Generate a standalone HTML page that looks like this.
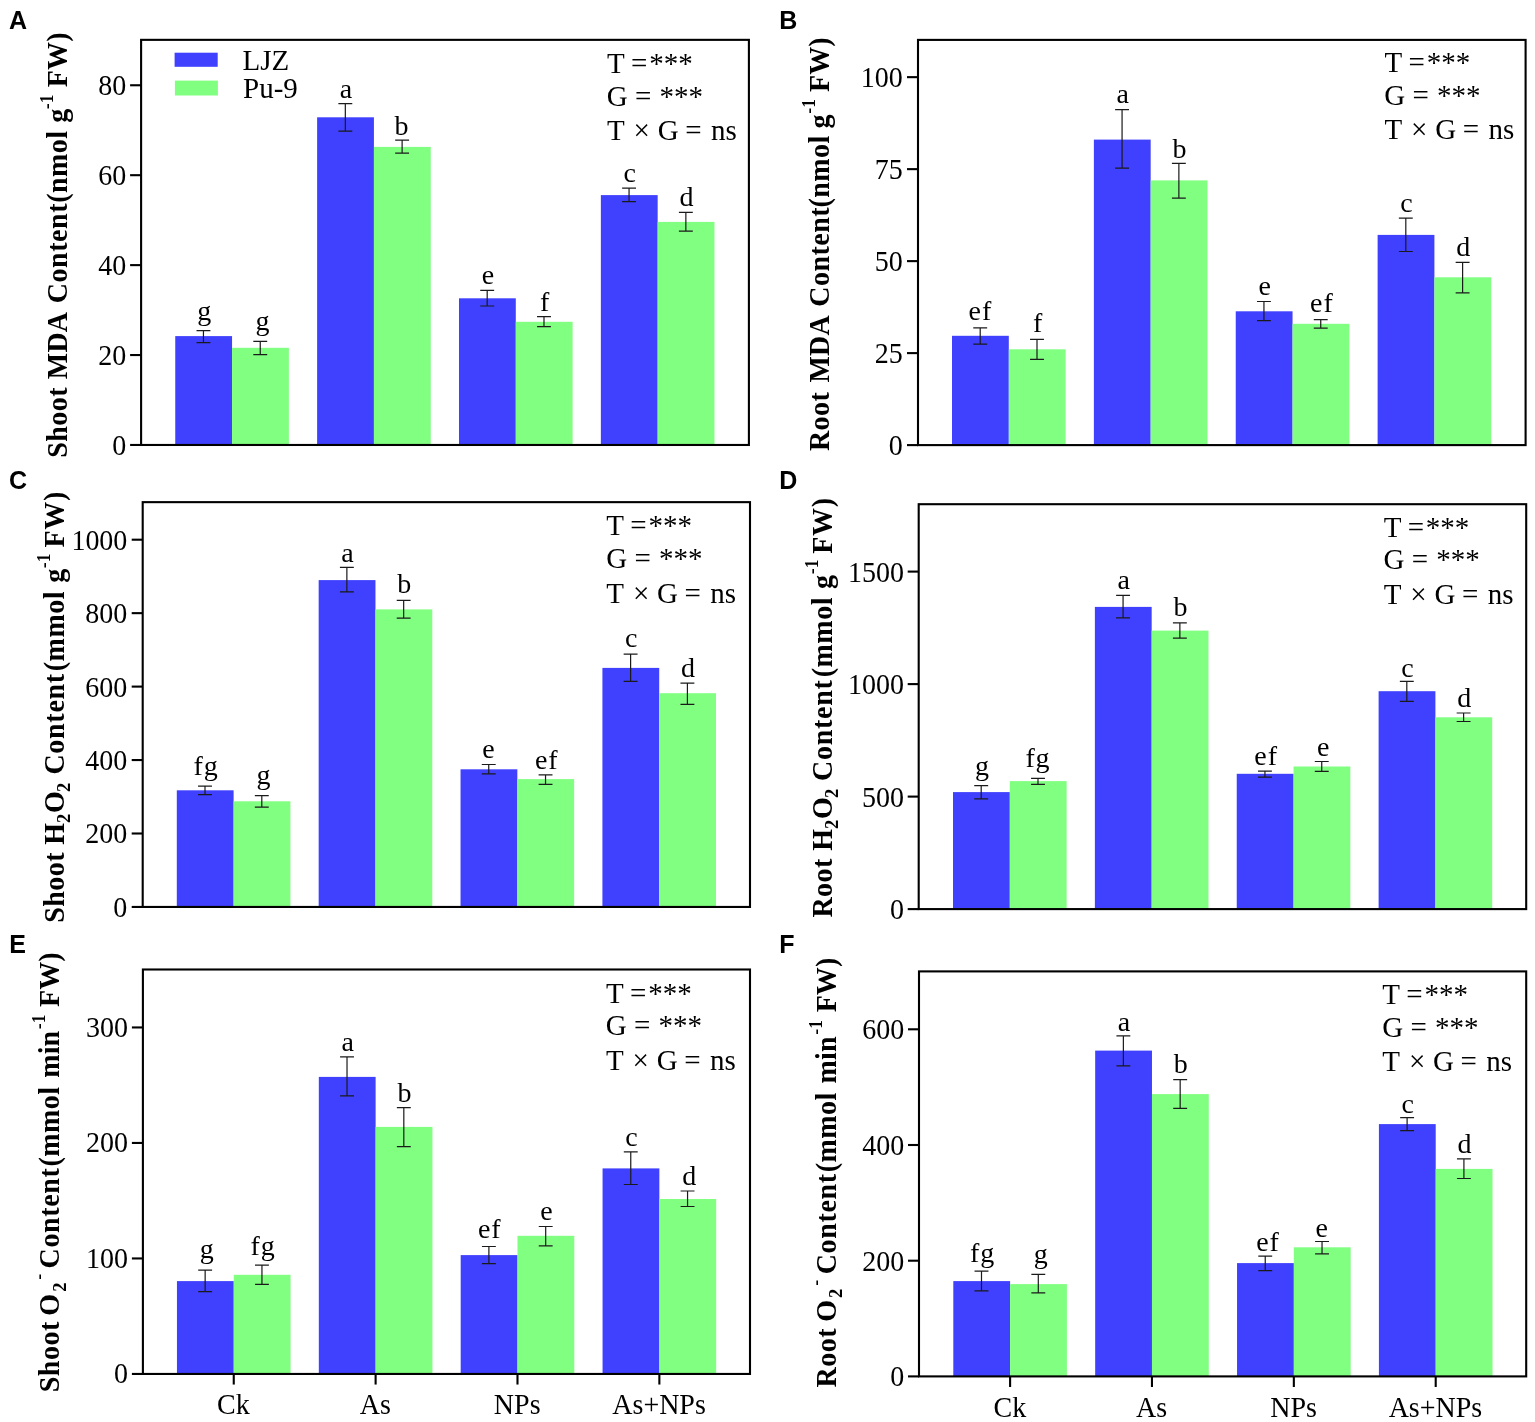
<!DOCTYPE html>
<html lang="en"><head><meta charset="utf-8"><title>Figure</title>
<style>
html,body{margin:0;padding:0;background:#fff;}
body{width:1535px;height:1422px;overflow:hidden;}
svg{display:block;}
text{font-family:"Liberation Serif","DejaVu Serif",serif;fill:#000;}
.tk{font-size:28px;text-anchor:end;}
.st{font-size:29px;}
.lt{font-size:28px;text-anchor:middle;}
.xl{font-size:28px;text-anchor:middle;}
.yl{font-size:28px;font-weight:bold;}
.pl{font-family:"Liberation Sans","DejaVu Sans",sans-serif;font-weight:bold;font-size:25px;}
.ax{stroke:#000;stroke-width:2.1;fill:none;}
.eb{stroke:#1a1a1a;stroke-width:1.2;fill:none;}
</style></head><body>
<svg width="1535" height="1422" viewBox="0 0 1535 1422">
<rect x="0" y="0" width="1535" height="1422" fill="#ffffff"/>
<g id="panel-A">
<rect x="175.25" y="336.1" width="56.8" height="108.87" fill="#4040ff"/>
<rect x="232.05" y="347.8" width="56.8" height="97.17" fill="#80ff80"/>
<rect x="317.12" y="117.3" width="56.8" height="327.67" fill="#4040ff"/>
<rect x="373.92" y="146.9" width="56.8" height="298.07" fill="#80ff80"/>
<rect x="458.99" y="298.3" width="56.8" height="146.67" fill="#4040ff"/>
<rect x="515.79" y="321.8" width="56.8" height="123.17" fill="#80ff80"/>
<rect x="600.86" y="195.1" width="56.8" height="249.87" fill="#4040ff"/>
<rect x="657.66" y="221.9" width="56.8" height="223.07" fill="#80ff80"/>
<path class="eb" d="M196.5 330.6H210.4M196.5 342.6H210.4M203.45 330.6V342.6"/>
<path class="eb" d="M253.3 341.3H267.2M253.3 354.6H267.2M260.25 341.3V354.6"/>
<path class="eb" d="M338.37 103.6H352.27M338.37 131.1H352.27M345.32 103.6V131.1"/>
<path class="eb" d="M395.17 140.1H409.07M395.17 153.1H409.07M402.12 140.1V153.1"/>
<path class="eb" d="M480.24 290.3H494.14M480.24 306H494.14M487.19 290.3V306"/>
<path class="eb" d="M537.04 316.6H550.94M537.04 326.6H550.94M543.99 316.6V326.6"/>
<path class="eb" d="M622.11 188.1H636.01M622.11 201.7H636.01M629.06 188.1V201.7"/>
<path class="eb" d="M678.91 212.4H692.81M678.91 231.2H692.81M685.86 212.4V231.2"/>
<text class="lt" transform="translate(204.15 320.25) scale(1 0.95)">g</text>
<text class="lt" transform="translate(262.55 330.45) scale(1 0.95)">g</text>
<text class="lt" transform="translate(346.02 97.8) scale(1 0.95)">a</text>
<text class="lt" transform="translate(401.52 134.6) scale(1 1)">b</text>
<text class="lt" transform="translate(487.89 283.7) scale(1 0.95)">e</text>
<text class="lt" transform="translate(544.69 310.7) scale(1 1)">f</text>
<text class="lt" transform="translate(629.76 182.1) scale(1 0.95)">c</text>
<text class="lt" transform="translate(686.56 206.4) scale(1 1)">d</text>
<rect class="ax" x="141.1" y="39.85" width="607.8" height="405.12"/>
<path class="ax" d="M130.1 444.97H141.1"/>
<text class="tk" transform="translate(126.3 454.87) scale(1 1.04)">0</text>
<path class="ax" d="M130.1 355.04H141.1"/>
<text class="tk" transform="translate(126.3 364.94) scale(1 1.04)">20</text>
<path class="ax" d="M130.1 265.12H141.1"/>
<text class="tk" transform="translate(126.3 275.01) scale(1 1.04)">40</text>
<path class="ax" d="M130.1 175.19H141.1"/>
<text class="tk" transform="translate(126.3 185.09) scale(1 1.04)">60</text>
<path class="ax" d="M130.1 85.26H141.1"/>
<text class="tk" transform="translate(126.3 95.16) scale(1 1.04)">80</text>
<text class="st" y="73.2"><tspan x="606.96">T </tspan><tspan x="631">=</tspan><tspan x="649.15">***</tspan></text>
<text class="st" y="105.5"><tspan x="606.85">G </tspan><tspan x="635.11">= </tspan><tspan x="659.6">***</tspan></text>
<text class="st" y="139.9"><tspan x="606.96">T </tspan><tspan x="633.6">× </tspan><tspan x="657.7">G </tspan><tspan x="685.3">= </tspan><tspan x="711">ns</tspan></text>
<text class="pl" x="9.1" y="29.4">A</text>
<text class="yl" transform="translate(66.9 457.8) rotate(-90) scale(1 1.04)" letter-spacing="0.12"><tspan x="0" y="0" letter-spacing="0.5">Shoot </tspan><tspan x="78.66" y="0">MDA </tspan><tspan x="154.58" y="0" letter-spacing="0.55">Content</tspan><tspan x="255.06" y="0" letter-spacing="0.45">(nmol </tspan><tspan x="335.1" y="0">g</tspan><tspan x="348.67" y="-13.5" font-size="17.5">-1 </tspan><tspan x="370.68" y="0">FW)</tspan></text>
<rect x="174.6" y="52.7" width="43.1" height="14.1" fill="#4040ff"/>
<rect x="174.9" y="80.6" width="43" height="14.9" fill="#80ff80"/>
<text class="st" x="242.6" y="69.6" font-size="28.3">LJZ</text>
<text class="st" x="243" y="98.4" font-size="28.6">Pu-9</text>
</g>
<g id="panel-B">
<rect x="952" y="335.8" width="56.8" height="109.3" fill="#4040ff"/>
<rect x="1008.8" y="349.3" width="56.8" height="95.8" fill="#80ff80"/>
<rect x="1093.87" y="139.6" width="56.8" height="305.5" fill="#4040ff"/>
<rect x="1150.67" y="180.4" width="56.8" height="264.7" fill="#80ff80"/>
<rect x="1235.74" y="311.3" width="56.8" height="133.8" fill="#4040ff"/>
<rect x="1292.54" y="323.8" width="56.8" height="121.3" fill="#80ff80"/>
<rect x="1377.61" y="234.9" width="56.8" height="210.2" fill="#4040ff"/>
<rect x="1434.41" y="277.3" width="56.8" height="167.8" fill="#80ff80"/>
<path class="eb" d="M973.25 327.8H987.15M973.25 344.1H987.15M980.2 327.8V344.1"/>
<path class="eb" d="M1030.05 339.3H1043.95M1030.05 359.3H1043.95M1037 339.3V359.3"/>
<path class="eb" d="M1115.12 109.6H1129.02M1115.12 168.1H1129.02M1122.07 109.6V168.1"/>
<path class="eb" d="M1171.92 163.4H1185.82M1171.92 198.1H1185.82M1178.87 163.4V198.1"/>
<path class="eb" d="M1256.99 301.5H1270.89M1256.99 320.6H1270.89M1263.94 301.5V320.6"/>
<path class="eb" d="M1313.79 319.6H1327.69M1313.79 328.1H1327.69M1320.74 319.6V328.1"/>
<path class="eb" d="M1398.86 218.2H1412.76M1398.86 251.5H1412.76M1405.81 218.2V251.5"/>
<path class="eb" d="M1455.66 262.3H1469.56M1455.66 292.8H1469.56M1462.61 262.3V292.8"/>
<text class="lt" transform="translate(980.35 320.3) scale(1 1)" letter-spacing="0.9">ef</text>
<text class="lt" transform="translate(1037.7 332) scale(1 1)">f</text>
<text class="lt" transform="translate(1122.77 103.3) scale(1 0.95)">a</text>
<text class="lt" transform="translate(1179.57 158.3) scale(1 1)">b</text>
<text class="lt" transform="translate(1264.64 295.2) scale(1 0.95)">e</text>
<text class="lt" transform="translate(1321.89 312) scale(1 1)" letter-spacing="0.9">ef</text>
<text class="lt" transform="translate(1406.51 212.1) scale(1 0.95)">c</text>
<text class="lt" transform="translate(1463.31 256.2) scale(1 1)">d</text>
<rect class="ax" x="918" y="39.9" width="607.6" height="405.2"/>
<path class="ax" d="M907 445.1H918"/>
<text class="tk" transform="translate(902.8 455) scale(1 1.04)">0</text>
<path class="ax" d="M907 353.11H918"/>
<text class="tk" transform="translate(902.8 363.01) scale(1 1.04)">25</text>
<path class="ax" d="M907 261.12H918"/>
<text class="tk" transform="translate(902.8 271.02) scale(1 1.04)">50</text>
<path class="ax" d="M907 169.14H918"/>
<text class="tk" transform="translate(902.8 179.04) scale(1 1.04)">75</text>
<path class="ax" d="M907 77.15H918"/>
<text class="tk" transform="translate(902.8 87.05) scale(1 1.04)">100</text>
<text class="st" y="71.6"><tspan x="1384.46">T </tspan><tspan x="1408.5">=</tspan><tspan x="1426.65">***</tspan></text>
<text class="st" y="104.8"><tspan x="1384.35">G </tspan><tspan x="1412.61">= </tspan><tspan x="1437.1">***</tspan></text>
<text class="st" y="139.4"><tspan x="1384.46">T </tspan><tspan x="1411.1">× </tspan><tspan x="1435.2">G </tspan><tspan x="1462.8">= </tspan><tspan x="1488.5">ns</tspan></text>
<text class="pl" x="779.15" y="29.4">B</text>
<text class="yl" transform="translate(829.3 451.1) rotate(-90) scale(1 1.04)" letter-spacing="0.12"><tspan x="0" y="0" letter-spacing="0.5">Root </tspan><tspan x="68.68" y="0">MDA </tspan><tspan x="144.35" y="0" letter-spacing="0.5">Content</tspan><tspan x="243.64" y="0" letter-spacing="0.45">(nmol </tspan><tspan x="322.69" y="0">g</tspan><tspan x="337.41" y="-13.5" font-size="17.5">-1 </tspan><tspan x="359.08" y="0">FW)</tspan></text>
</g>
<g id="panel-C">
<rect x="176.8" y="790.3" width="56.8" height="116.65" fill="#4040ff"/>
<rect x="233.6" y="801.3" width="56.8" height="105.65" fill="#80ff80"/>
<rect x="318.67" y="580.1" width="56.8" height="326.85" fill="#4040ff"/>
<rect x="375.47" y="609.4" width="56.8" height="297.55" fill="#80ff80"/>
<rect x="460.54" y="769.3" width="56.8" height="137.65" fill="#4040ff"/>
<rect x="517.34" y="779.1" width="56.8" height="127.85" fill="#80ff80"/>
<rect x="602.41" y="667.9" width="56.8" height="239.05" fill="#4040ff"/>
<rect x="659.21" y="693.2" width="56.8" height="213.75" fill="#80ff80"/>
<path class="eb" d="M198.05 786.1H211.95M198.05 794.6H211.95M205 786.1V794.6"/>
<path class="eb" d="M254.85 795.6H268.75M254.85 807.1H268.75M261.8 795.6V807.1"/>
<path class="eb" d="M339.92 567.3H353.82M339.92 591.8H353.82M346.87 567.3V591.8"/>
<path class="eb" d="M396.72 600.4H410.62M396.72 618.1H410.62M403.67 600.4V618.1"/>
<path class="eb" d="M481.79 764.5H495.69M481.79 773.8H495.69M488.74 764.5V773.8"/>
<path class="eb" d="M538.59 774.8H552.49M538.59 784.3H552.49M545.54 774.8V784.3"/>
<path class="eb" d="M623.66 654.1H637.56M623.66 681.4H637.56M630.61 654.1V681.4"/>
<path class="eb" d="M680.46 683.2H694.36M680.46 704.3H694.36M687.41 683.2V704.3"/>
<text class="lt" transform="translate(206.15 775) scale(1 1)" letter-spacing="0.9">fg</text>
<text class="lt" transform="translate(263.5 784.45) scale(1 0.95)">g</text>
<text class="lt" transform="translate(347.57 562) scale(1 0.95)">a</text>
<text class="lt" transform="translate(404.37 593.4) scale(1 1)">b</text>
<text class="lt" transform="translate(488.44 757.8) scale(1 0.95)">e</text>
<text class="lt" transform="translate(546.69 768.5) scale(1 1)" letter-spacing="0.9">ef</text>
<text class="lt" transform="translate(631.31 647.1) scale(1 0.95)">c</text>
<text class="lt" transform="translate(688.11 677.1) scale(1 1)">d</text>
<rect class="ax" x="142.7" y="502.15" width="607.3" height="404.8"/>
<path class="ax" d="M131.7 906.95H142.7"/>
<text class="tk" transform="translate(127.35 916.85) scale(1 1.04)">0</text>
<path class="ax" d="M131.7 833.5H142.7"/>
<text class="tk" transform="translate(127.35 843.4) scale(1 1.04)">200</text>
<path class="ax" d="M131.7 760.05H142.7"/>
<text class="tk" transform="translate(127.35 769.95) scale(1 1.04)">400</text>
<path class="ax" d="M131.7 686.6H142.7"/>
<text class="tk" transform="translate(127.35 696.5) scale(1 1.04)">600</text>
<path class="ax" d="M131.7 613.15H142.7"/>
<text class="tk" transform="translate(127.35 623.05) scale(1 1.04)">800</text>
<path class="ax" d="M131.7 539.7H142.7"/>
<text class="tk" transform="translate(127.35 549.6) scale(1 1.04)">1000</text>
<text class="st" y="535.4"><tspan x="606.26">T </tspan><tspan x="630.3">=</tspan><tspan x="648.45">***</tspan></text>
<text class="st" y="568"><tspan x="606.15">G </tspan><tspan x="634.41">= </tspan><tspan x="658.9">***</tspan></text>
<text class="st" y="602.6"><tspan x="606.26">T </tspan><tspan x="632.9">× </tspan><tspan x="657">G </tspan><tspan x="684.6">= </tspan><tspan x="710.3">ns</tspan></text>
<text class="pl" x="8.9" y="489.2">C</text>
<text class="yl" transform="translate(63.7 922.8) rotate(-90) scale(1 1.04)" letter-spacing="0.12"><tspan x="0" y="0" letter-spacing="0.5">Shoot </tspan><tspan x="77.93" y="0">H</tspan><tspan x="99.78" y="6.2" font-size="18.5">2</tspan><tspan x="109.75" y="0">O</tspan><tspan x="130.75" y="6.2" font-size="18.5">2 </tspan><tspan x="148.23" y="0" letter-spacing="0.72">Content</tspan><tspan x="251.46" y="0" letter-spacing="0.55">(mmol </tspan><tspan x="339.98" y="0">g</tspan><tspan x="354.6" y="-13.5" font-size="17.5">-1 </tspan><tspan x="375.33" y="0" letter-spacing="0.7">FW)</tspan></text>
</g>
<g id="panel-D">
<rect x="953" y="792.1" width="56.8" height="117" fill="#4040ff"/>
<rect x="1009.8" y="781.1" width="56.8" height="128" fill="#80ff80"/>
<rect x="1094.87" y="606.9" width="56.8" height="302.2" fill="#4040ff"/>
<rect x="1151.67" y="630.6" width="56.8" height="278.5" fill="#80ff80"/>
<rect x="1236.74" y="773.8" width="56.8" height="135.3" fill="#4040ff"/>
<rect x="1293.54" y="766.5" width="56.8" height="142.6" fill="#80ff80"/>
<rect x="1378.61" y="691.2" width="56.8" height="217.9" fill="#4040ff"/>
<rect x="1435.41" y="717.3" width="56.8" height="191.8" fill="#80ff80"/>
<path class="eb" d="M974.25 785.6H988.15M974.25 798.8H988.15M981.2 785.6V798.8"/>
<path class="eb" d="M1031.05 778.3H1044.95M1031.05 784.3H1044.95M1038 778.3V784.3"/>
<path class="eb" d="M1116.12 595.4H1130.02M1116.12 617.9H1130.02M1123.07 595.4V617.9"/>
<path class="eb" d="M1172.92 622.9H1186.82M1172.92 638.1H1186.82M1179.87 622.9V638.1"/>
<path class="eb" d="M1257.99 771.1H1271.89M1257.99 777.1H1271.89M1264.94 771.1V777.1"/>
<path class="eb" d="M1314.79 761.5H1328.69M1314.79 771.3H1328.69M1321.74 761.5V771.3"/>
<path class="eb" d="M1399.86 681.4H1413.76M1399.86 701.3H1413.76M1406.81 681.4V701.3"/>
<path class="eb" d="M1456.66 713H1470.56M1456.66 721.5H1470.56M1463.61 713V721.5"/>
<text class="lt" transform="translate(981.9 774.75) scale(1 0.95)">g</text>
<text class="lt" transform="translate(1037.95 766.7) scale(1 1)" letter-spacing="0.9">fg</text>
<text class="lt" transform="translate(1123.77 588.7) scale(1 0.95)">a</text>
<text class="lt" transform="translate(1180.57 616.4) scale(1 1)">b</text>
<text class="lt" transform="translate(1266.09 765.2) scale(1 1)" letter-spacing="0.9">ef</text>
<text class="lt" transform="translate(1323.34 756.2) scale(1 0.95)">e</text>
<text class="lt" transform="translate(1407.51 677.1) scale(1 0.95)">c</text>
<text class="lt" transform="translate(1464.31 706.6) scale(1 1)">d</text>
<rect class="ax" x="918.7" y="504.2" width="607.5" height="404.9"/>
<path class="ax" d="M907.7 909.1H918.7"/>
<text class="tk" transform="translate(903.9 919) scale(1 1.04)">0</text>
<path class="ax" d="M907.7 796.6H918.7"/>
<text class="tk" transform="translate(903.9 806.5) scale(1 1.04)">500</text>
<path class="ax" d="M907.7 684.1H918.7"/>
<text class="tk" transform="translate(903.9 694) scale(1 1.04)">1000</text>
<path class="ax" d="M907.7 571.6H918.7"/>
<text class="tk" transform="translate(903.9 581.5) scale(1 1.04)">1500</text>
<text class="st" y="537.2"><tspan x="1383.66">T </tspan><tspan x="1407.7">=</tspan><tspan x="1425.85">***</tspan></text>
<text class="st" y="569.1"><tspan x="1383.55">G </tspan><tspan x="1411.81">= </tspan><tspan x="1436.3">***</tspan></text>
<text class="st" y="603.5"><tspan x="1383.66">T </tspan><tspan x="1410.3">× </tspan><tspan x="1434.4">G </tspan><tspan x="1462">= </tspan><tspan x="1487.7">ns</tspan></text>
<text class="pl" x="779.15" y="489.2">D</text>
<text class="yl" transform="translate(831.7 917.6) rotate(-90) scale(1 1.04)" letter-spacing="0.12"><tspan x="0" y="0" letter-spacing="0.5">Root </tspan><tspan x="66.8" y="0">H</tspan><tspan x="88.65" y="6.2" font-size="18.5">2</tspan><tspan x="98.62" y="0">O</tspan><tspan x="119.62" y="6.2" font-size="18.5">2 </tspan><tspan x="136.71" y="0" letter-spacing="0.72">Content</tspan><tspan x="240.24" y="0" letter-spacing="0.55">(mmol </tspan><tspan x="328.67" y="0">g</tspan><tspan x="343.29" y="-13.5" font-size="17.5">-1 </tspan><tspan x="363.93" y="0" letter-spacing="0.7">FW)</tspan></text>
</g>
<g id="panel-E">
<rect x="176.95" y="1281.1" width="56.8" height="92.85" fill="#4040ff"/>
<rect x="233.75" y="1274.8" width="56.8" height="99.15" fill="#80ff80"/>
<rect x="318.82" y="1076.9" width="56.8" height="297.05" fill="#4040ff"/>
<rect x="375.62" y="1126.9" width="56.8" height="247.05" fill="#80ff80"/>
<rect x="460.69" y="1255.1" width="56.8" height="118.85" fill="#4040ff"/>
<rect x="517.49" y="1235.8" width="56.8" height="138.15" fill="#80ff80"/>
<rect x="602.56" y="1168.4" width="56.8" height="205.55" fill="#4040ff"/>
<rect x="659.36" y="1199" width="56.8" height="174.95" fill="#80ff80"/>
<path class="eb" d="M198.2 1270.1H212.1M198.2 1291.6H212.1M205.15 1270.1V1291.6"/>
<path class="eb" d="M255 1265.1H268.9M255 1284.3H268.9M261.95 1265.1V1284.3"/>
<path class="eb" d="M340.07 1056.8H353.97M340.07 1095.9H353.97M347.02 1056.8V1095.9"/>
<path class="eb" d="M396.87 1107.6H410.77M396.87 1146.6H410.77M403.82 1107.6V1146.6"/>
<path class="eb" d="M481.94 1246.5H495.84M481.94 1263.6H495.84M488.89 1246.5V1263.6"/>
<path class="eb" d="M538.74 1226.5H552.64M538.74 1245.8H552.64M545.69 1226.5V1245.8"/>
<path class="eb" d="M623.81 1151.9H637.71M623.81 1184.5H637.71M630.76 1151.9V1184.5"/>
<path class="eb" d="M680.61 1191H694.51M680.61 1206.5H694.51M687.56 1191V1206.5"/>
<text class="lt" transform="translate(206.85 1258.45) scale(1 0.95)">g</text>
<text class="lt" transform="translate(263.1 1254.5) scale(1 1)" letter-spacing="0.9">fg</text>
<text class="lt" transform="translate(347.72 1051.3) scale(1 0.95)">a</text>
<text class="lt" transform="translate(404.52 1101.5) scale(1 1)">b</text>
<text class="lt" transform="translate(489.74 1238.1) scale(1 1)" letter-spacing="0.9">ef</text>
<text class="lt" transform="translate(546.39 1220.2) scale(1 0.95)">e</text>
<text class="lt" transform="translate(631.46 1145.9) scale(1 0.95)">c</text>
<text class="lt" transform="translate(689.26 1185) scale(1 1)">d</text>
<rect class="ax" x="142.9" y="969.5" width="607.1" height="404.45"/>
<path class="ax" d="M131.9 1373.95H142.9"/>
<text class="tk" transform="translate(127.9 1383.35) scale(1 1.04)">0</text>
<path class="ax" d="M131.9 1258.45H142.9"/>
<text class="tk" transform="translate(127.9 1267.85) scale(1 1.04)">100</text>
<path class="ax" d="M131.9 1142.95H142.9"/>
<text class="tk" transform="translate(127.9 1152.35) scale(1 1.04)">200</text>
<path class="ax" d="M131.9 1027.45H142.9"/>
<text class="tk" transform="translate(127.9 1036.85) scale(1 1.04)">300</text>
<text class="st" y="1003.2"><tspan x="605.96">T </tspan><tspan x="630">=</tspan><tspan x="648.15">***</tspan></text>
<text class="st" y="1034.6"><tspan x="605.85">G </tspan><tspan x="634.11">= </tspan><tspan x="658.6">***</tspan></text>
<text class="st" y="1069.6"><tspan x="605.96">T </tspan><tspan x="632.6">× </tspan><tspan x="656.7">G </tspan><tspan x="684.3">= </tspan><tspan x="710">ns</tspan></text>
<text class="pl" x="9.15" y="953">E</text>
<text class="yl" transform="translate(59.3 1392.2) rotate(-90) scale(1 1.04)" letter-spacing="0.12"><tspan x="0" y="0" letter-spacing="0.5">Shoot </tspan><tspan x="76.53" y="0">O</tspan><tspan x="100.43" y="6.2" font-size="18.5">2</tspan><tspan x="112.55" y="-13.5" font-size="17.5">- </tspan><tspan x="123.71" y="0" letter-spacing="0.67">Content</tspan><tspan x="225.75" y="0" letter-spacing="0.45">(mmol </tspan><tspan x="314.41" y="0">min</tspan><tspan x="363.05" y="-13.5" font-size="17.5">-1 </tspan><tspan x="385.23" y="0">FW)</tspan></text>
<path class="ax" d="M233.75 1373.95V1384.55"/>
<text class="xl" transform="translate(233.45 1414.4) scale(1 1.03)">Ck</text>
<path class="ax" d="M375.62 1373.95V1384.55"/>
<text class="xl" transform="translate(375.32 1414.4) scale(1 1.03)">As</text>
<path class="ax" d="M517.49 1373.95V1384.55"/>
<text class="xl" transform="translate(517.19 1414.4) scale(1 1.03)">NPs</text>
<path class="ax" d="M659.36 1373.95V1384.55"/>
<text class="xl" transform="translate(659.06 1414.4) scale(1 1.03)">As+NPs</text>
</g>
<g id="panel-F">
<rect x="953.3" y="1281.1" width="56.8" height="95.3" fill="#4040ff"/>
<rect x="1010.1" y="1284.1" width="56.8" height="92.3" fill="#80ff80"/>
<rect x="1095.17" y="1050.6" width="56.8" height="325.8" fill="#4040ff"/>
<rect x="1151.97" y="1094.1" width="56.8" height="282.3" fill="#80ff80"/>
<rect x="1237.04" y="1263.1" width="56.8" height="113.3" fill="#4040ff"/>
<rect x="1293.84" y="1247.3" width="56.8" height="129.1" fill="#80ff80"/>
<rect x="1378.91" y="1124.1" width="56.8" height="252.3" fill="#4040ff"/>
<rect x="1435.71" y="1168.9" width="56.8" height="207.5" fill="#80ff80"/>
<path class="eb" d="M974.55 1271.1H988.45M974.55 1290.8H988.45M981.5 1271.1V1290.8"/>
<path class="eb" d="M1031.35 1274.3H1045.25M1031.35 1292.8H1045.25M1038.3 1274.3V1292.8"/>
<path class="eb" d="M1116.42 1035.8H1130.32M1116.42 1065.9H1130.32M1123.37 1035.8V1065.9"/>
<path class="eb" d="M1173.22 1079.6H1187.12M1173.22 1108.4H1187.12M1180.17 1079.6V1108.4"/>
<path class="eb" d="M1258.29 1256.1H1272.19M1258.29 1270.6H1272.19M1265.24 1256.1V1270.6"/>
<path class="eb" d="M1315.09 1241.5H1328.99M1315.09 1253.8H1328.99M1322.04 1241.5V1253.8"/>
<path class="eb" d="M1400.16 1117.6H1414.06M1400.16 1130.6H1414.06M1407.11 1117.6V1130.6"/>
<path class="eb" d="M1456.96 1158.9H1470.86M1456.96 1178.5H1470.86M1463.91 1158.9V1178.5"/>
<text class="lt" transform="translate(982.65 1261.9) scale(1 1)" letter-spacing="0.9">fg</text>
<text class="lt" transform="translate(1040.8 1262.95) scale(1 0.95)">g</text>
<text class="lt" transform="translate(1124.07 1031.2) scale(1 0.95)">a</text>
<text class="lt" transform="translate(1180.87 1073.4) scale(1 1)">b</text>
<text class="lt" transform="translate(1267.99 1250.7) scale(1 1)" letter-spacing="0.9">ef</text>
<text class="lt" transform="translate(1321.84 1237) scale(1 0.95)">e</text>
<text class="lt" transform="translate(1407.81 1112.6) scale(1 0.95)">c</text>
<text class="lt" transform="translate(1464.61 1153.4) scale(1 1)">d</text>
<rect class="ax" x="919" y="971.4" width="607.2" height="405"/>
<path class="ax" d="M908 1376.4H919"/>
<text class="tk" transform="translate(904.2 1386.3) scale(1 1.04)">0</text>
<path class="ax" d="M908 1260.7H919"/>
<text class="tk" transform="translate(904.2 1270.6) scale(1 1.04)">200</text>
<path class="ax" d="M908 1145H919"/>
<text class="tk" transform="translate(904.2 1154.9) scale(1 1.04)">400</text>
<path class="ax" d="M908 1029.3H919"/>
<text class="tk" transform="translate(904.2 1039.2) scale(1 1.04)">600</text>
<text class="st" y="1003.6"><tspan x="1382.26">T </tspan><tspan x="1406.3">=</tspan><tspan x="1424.45">***</tspan></text>
<text class="st" y="1036.7"><tspan x="1382.15">G </tspan><tspan x="1410.41">= </tspan><tspan x="1434.9">***</tspan></text>
<text class="st" y="1070.8"><tspan x="1382.26">T </tspan><tspan x="1408.9">× </tspan><tspan x="1433">G </tspan><tspan x="1460.6">= </tspan><tspan x="1486.3">ns</tspan></text>
<text class="pl" x="779.15" y="953">F</text>
<text class="yl" transform="translate(835.8 1387.5) rotate(-90) scale(1 1.04)" letter-spacing="0.12"><tspan x="0" y="0" letter-spacing="0.5">Root </tspan><tspan x="65.72" y="0">O</tspan><tspan x="89.62" y="6.2" font-size="18.5">2</tspan><tspan x="101.74" y="-13.5" font-size="17.5">- </tspan><tspan x="113.14" y="0" letter-spacing="0.67">Content</tspan><tspan x="215.17" y="0" letter-spacing="0.45">(mmol </tspan><tspan x="304.08" y="0">min</tspan><tspan x="352.71" y="-13.5" font-size="17.5">-1 </tspan><tspan x="375.13" y="0">FW)</tspan></text>
<path class="ax" d="M1010.1 1376.4V1387"/>
<text class="xl" transform="translate(1009.8 1417.3) scale(1 1.03)">Ck</text>
<path class="ax" d="M1151.97 1376.4V1387"/>
<text class="xl" transform="translate(1151.67 1417.3) scale(1 1.03)">As</text>
<path class="ax" d="M1293.84 1376.4V1387"/>
<text class="xl" transform="translate(1293.54 1417.3) scale(1 1.03)">NPs</text>
<path class="ax" d="M1435.71 1376.4V1387"/>
<text class="xl" transform="translate(1435.41 1417.3) scale(1 1.03)">As+NPs</text>
</g>
</svg>
</body></html>
